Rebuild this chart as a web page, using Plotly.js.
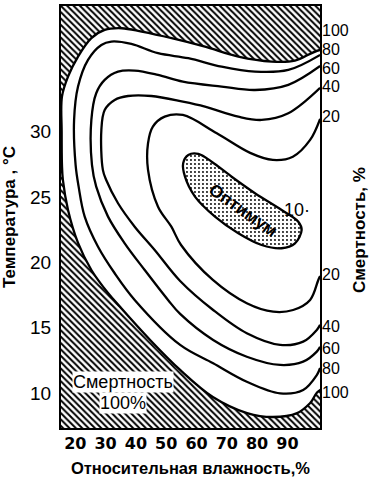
<!DOCTYPE html>
<html>
<head>
<meta charset="utf-8">
<script src="https://cdn.plot.ly/plotly-3.0.1.min.js"></script>
<style>html,body{margin:0;padding:0;background:#fff;}#chart{width:376px;height:485px;}</style>
</head>
<body>
<div id="chart"></div>
<script>
// Axis ranges (relative humidity %, temperature °C)
const X_RANGE = [15.28, 100.76];
const Y_RANGE = [7.33, 39.59];
const xTicks = [20, 30, 40, 50, 60, 70, 80, 90];
const yTicks = [10, 15, 20, 25, 30];

// Mortality isolines: humidity (x) and temperature (y)
const hum100 = [100.8, 92.5, 84.8, 73.8, 62.8, 51.8, 41.9, 35.3, 29.7, 25.3, 20.9, 17.6, 15.6, 15.5, 15.6, 15.9, 17.6, 20.9, 25.3, 30.8, 34.7, 44.7, 54.6, 65.4, 76.7, 85.2, 93.2, 97.5, 100.8];
const temp100 = [36.23, 35.41, 35.34, 35.72, 36.48, 37.13, 37.63, 37.89, 37.76, 37.13, 35.72, 34.19, 32.66, 30.0, 27.44, 26.29, 24.00, 21.48, 19.41, 17.65, 16.61, 14.06, 11.77, 9.70, 8.47, 8.17, 8.47, 9.24, 10.24];

const hum80 = [100.8, 90.3, 79.3, 68.3, 57.3, 47.3, 38.5, 31.9, 28.6, 24.2, 20.9, 19.6, 20.1, 21.1, 23.1, 27.5, 33.0, 39.6, 54.6, 65.5, 76.6, 87.6, 95.2, 99.7, 100.8];
const temp80 = [35.85, 34.70, 34.57, 34.95, 35.60, 35.98, 36.69, 36.87, 36.61, 35.47, 33.43, 30.88, 27.44, 25.78, 23.49, 21.19, 19.16, 17.12, 13.68, 12.28, 10.87, 9.98, 10.24, 11.38, 11.92];

const hum60 = [100.8, 90.3, 79.3, 68.3, 55.5, 47.3, 39.6, 34.1, 29.7, 26.9, 25.3, 25.5, 26.9, 30.8, 36.3, 42.9, 50.6, 54.6, 65.5, 76.6, 87.6, 95.2, 99.7, 100.8];
const temp60 = [35.00, 33.56, 33.17, 33.43, 33.81, 34.32, 34.65, 34.57, 33.94, 32.92, 30.88, 27.44, 25.78, 23.49, 21.45, 19.41, 17.12, 16.05, 14.06, 12.78, 12.15, 12.40, 13.17, 13.53];

const hum40 = [100.8, 90.3, 81.5, 73.8, 62.8, 55.5, 45.1, 37.4, 33.0, 29.7, 28.6, 29.1, 30.2, 34.1, 39.6, 46.2, 54.6, 65.5, 76.6, 87.6, 95.2, 99.7, 100.8];
const temp40 = [33.33, 31.39, 30.88, 31.13, 31.90, 32.28, 32.71, 32.71, 32.41, 31.64, 30.11, 27.06, 26.29, 24.51, 22.72, 20.94, 18.57, 16.35, 14.57, 13.68, 13.93, 14.83, 15.21];

const hum20 = [100.8, 97.5, 91.8, 85.2, 77.7, 66.7, 55.5, 49.5, 45.6, 44.0, 44.0, 47.3, 51.7, 54.9, 65.4, 76.6, 85.3, 91.9, 97.5, 100.2, 100.8];
const temp20 = [30.96, 29.35, 28.07, 27.82, 28.36, 29.86, 31.26, 31.13, 30.37, 29.10, 27.06, 24.25, 22.72, 21.32, 18.65, 16.87, 16.22, 16.35, 17.12, 18.65, 18.95];

// Optimum region (mortality 10 %)
const hum10 = [57.3, 60.6, 65.0, 71.6, 79.3, 88.1, 93.6, 94.7, 92.5, 88.1, 81.5, 73.8, 66.1, 59.5, 56.2, 55.6, 57.3];
const temp10 = [28.20, 28.28, 27.69, 26.54, 25.28, 24.00, 23.10, 22.47, 21.45, 21.07, 21.32, 22.22, 23.49, 25.02, 26.54, 27.57, 28.20];

// Right-side isoline labels
const levelLabels = ['100', '80', '60', '40', '20', '20', '40', '60', '80', '100'];
const levelLabelTemps = [37.68, 36.27, 34.85, 33.40, 31.11, 19.03, 15.06, 13.41, 11.88, 10.08];

// Hatched (100 % mortality) area: outside the 100 isoline, closed beyond the axes
const padX = 12, padY = 6;
const xOut = X_RANGE[1] + padX, xIn = X_RANGE[0] - padX;
const yLo = Y_RANGE[0] - padY, yHi = Y_RANGE[1] + padY;
const last = hum100.length - 1;
const hatchX = hum100.concat([xOut, xOut, xIn, xIn, xOut, xOut, hum100[0]]);
const hatchY = temp100.concat([temp100[last], yLo, yLo, yHi, yHi, temp100[0], temp100[0]]);

const lineStyle = {color: 'black', width: 2.3, shape: 'spline', smoothing: 1};
function iso(x, y) {
  return {x: x, y: y, type: 'scatter', mode: 'lines', line: lineStyle, hoverinfo: 'skip'};
}

const traces = [
  {x: hatchX, y: hatchY, type: 'scatter', mode: 'lines', fill: 'toself',
   fillcolor: 'white',
   fillpattern: {shape: '\\', size: 4.5, solidity: 0.45, fgcolor: 'black', bgcolor: 'white'},
   line: lineStyle, hoverinfo: 'skip'},
  iso(hum80, temp80),
  iso(hum60, temp60),
  iso(hum40, temp40),
  iso(hum20, temp20),
  {x: hum10, y: temp10, type: 'scatter', mode: 'lines', fill: 'toself',
   fillcolor: 'white',
   fillpattern: {shape: '.', size: 4, solidity: 0.18, fgcolor: 'black', bgcolor: 'white'},
   line: lineStyle, hoverinfo: 'skip'}
];

const numFont = {family: 'Liberation Sans, Arial, sans-serif', size: 16, color: 'black'};
const annotations = levelLabels.map((t, i) => ({
  xref: 'paper', yref: 'y', x: 1, y: levelLabelTemps[i], xanchor: 'left', yanchor: 'middle',
  xshift: 1, borderpad: 0, text: t, showarrow: false, font: numFont
}));

annotations.push(
  {xref: 'paper', yref: 'paper', x: 1.1506, y: 0.469, text: 'Смертность, %', textangle: -90,
   showarrow: false, xanchor: 'center', yanchor: 'middle',
   font: {family: 'Liberation Sans, Arial, sans-serif', size: 17, weight: 'bold', color: 'black'}},
  {xref: 'x', yref: 'y', x: 35.9, y: 10.85, text: 'Смертность', showarrow: false,
   bgcolor: 'white', borderpad: 0, font: {family: 'Liberation Sans, Arial, sans-serif', size: 18, color: 'black'}},
  {xref: 'x', yref: 'y', x: 35.7, y: 9.25, text: '100%', showarrow: false,
   bgcolor: 'white', borderpad: 0, font: {family: 'Liberation Sans, Arial, sans-serif', size: 18, color: 'black'}},
  {xref: 'x', yref: 'y', x: 75.4, y: 24.0, text: 'Оптимум', textangle: 35, showarrow: false,
   font: {family: 'Liberation Sans, Arial, sans-serif', size: 17.5, weight: 'bold', color: 'black'}},
  {xref: 'x', yref: 'y', x: 88.1, y: 24.0, text: '10·', showarrow: false, xanchor: 'left',
   font: {family: 'Liberation Sans, Arial, sans-serif', size: 18, color: 'black'}}
);

const layout = {
  width: 376, height: 485,
  margin: {l: 61, r: 56, t: 6, b: 57},
  paper_bgcolor: 'white', plot_bgcolor: 'white',
  showlegend: false,
  xaxis: {
    range: X_RANGE, tickvals: xTicks, ticks: '', showgrid: false, zeroline: false,
    showline: true, mirror: true, linewidth: 2, linecolor: 'black',
    tickfont: {family: 'DejaVu Sans, sans-serif', size: 16, weight: 'bold', color: 'black'},
    title: {text: 'Относительная влажность,%', standoff: 10,
            font: {family: 'Liberation Sans, Arial, sans-serif', size: 16.5, weight: 'bold', color: 'black'}}
  },
  yaxis: {
    range: Y_RANGE, tickvals: yTicks, ticks: '', showgrid: false, zeroline: false,
    showline: true, mirror: true, linewidth: 2, linecolor: 'black', ticklabelstandoff: 4,
    tickfont: {family: 'Liberation Sans, Arial, sans-serif', size: 19, color: 'black'},
    title: {text: 'Температура , °C', standoff: 14,
            font: {family: 'Liberation Sans, Arial, sans-serif', size: 17, weight: 'bold', color: 'black'}}
  },
  annotations: annotations
};

Plotly.newPlot('chart', traces, layout, {staticPlot: true, displayModeBar: false});
</script>
</body>
</html>
